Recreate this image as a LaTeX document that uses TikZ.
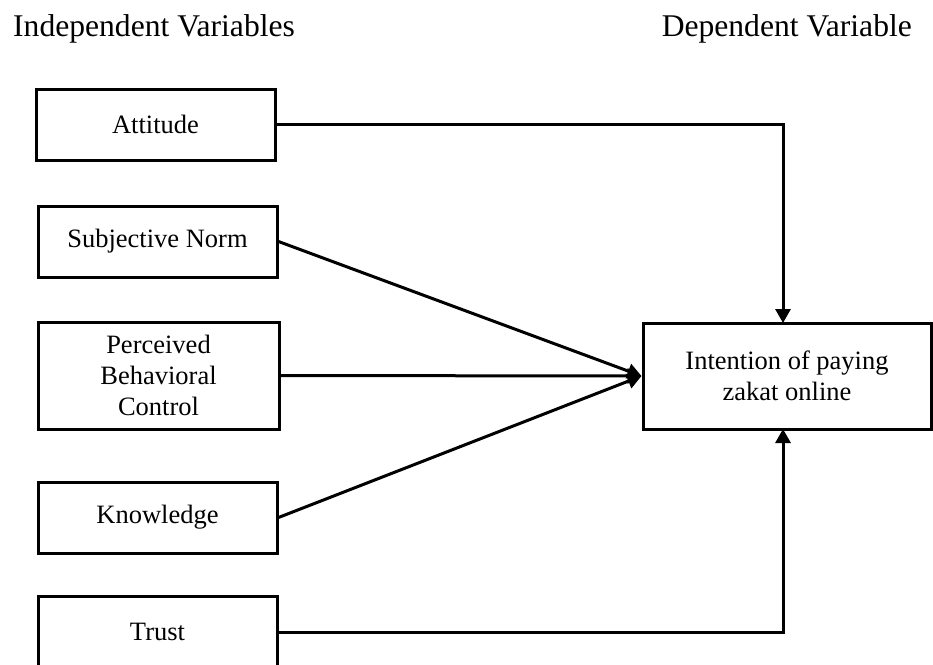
\documentclass[tikz,border=0pt]{standalone}
\usepackage{fontspec}
\setmainfont{Liberation Serif}
\usetikzlibrary{arrows.meta}
\begin{document}
\begin{tikzpicture}[x=1pt,y=-1pt,
  box/.style={draw,line width=3pt,rectangle,inner sep=0pt,align=center,
    font=\fontsize{26.5}{31}\selectfont},
  hdr/.style={inner sep=0pt,font=\fontsize{31.6}{36}\selectfont},
  conn/.style={line width=3pt,-{Triangle[length=14pt,width=15pt]}}]
\useasboundingbox (0,0) rectangle (933,664);
\node[hdr,anchor=base west] (hi) at (13,36) {Independent Variables};
\node[hdr,anchor=base east] (hd) at (912,36) {Dependent Variable};
\node[box,minimum width=239pt,minimum height=71pt] (att) at (155.5,124.5) {Attitude};
\node[box,minimum width=239pt,minimum height=71pt] (sn) at (157.5,241.5) {Subjective Norm};
\node[box,minimum width=241pt,minimum height=107pt] (pbc) at (158.5,375.5) {Perceived\\Behavioral\\Control};
\node[box,minimum width=239pt,minimum height=71pt] (kn) at (157.5,517.5) {Knowledge};
\node[box,minimum width=239pt,minimum height=72pt] (tr) at (157.5,632) {Trust};
\node[box,minimum width=288pt,minimum height=106pt] (int) at (787,376) {Intention of paying\\zakat online};
\coordinate (intop) at (783,323);
\coordinate (intbot) at (783,429);
\draw[conn] (att.east) -| (intop);
\draw[conn] (sn.east) -- (int.west);
\draw[conn] (pbc.east) -- (int.west);
\draw[conn] (kn.east) -- (int.west);
\draw[conn] (tr.east) -| (intbot);
\end{tikzpicture}
\end{document}
